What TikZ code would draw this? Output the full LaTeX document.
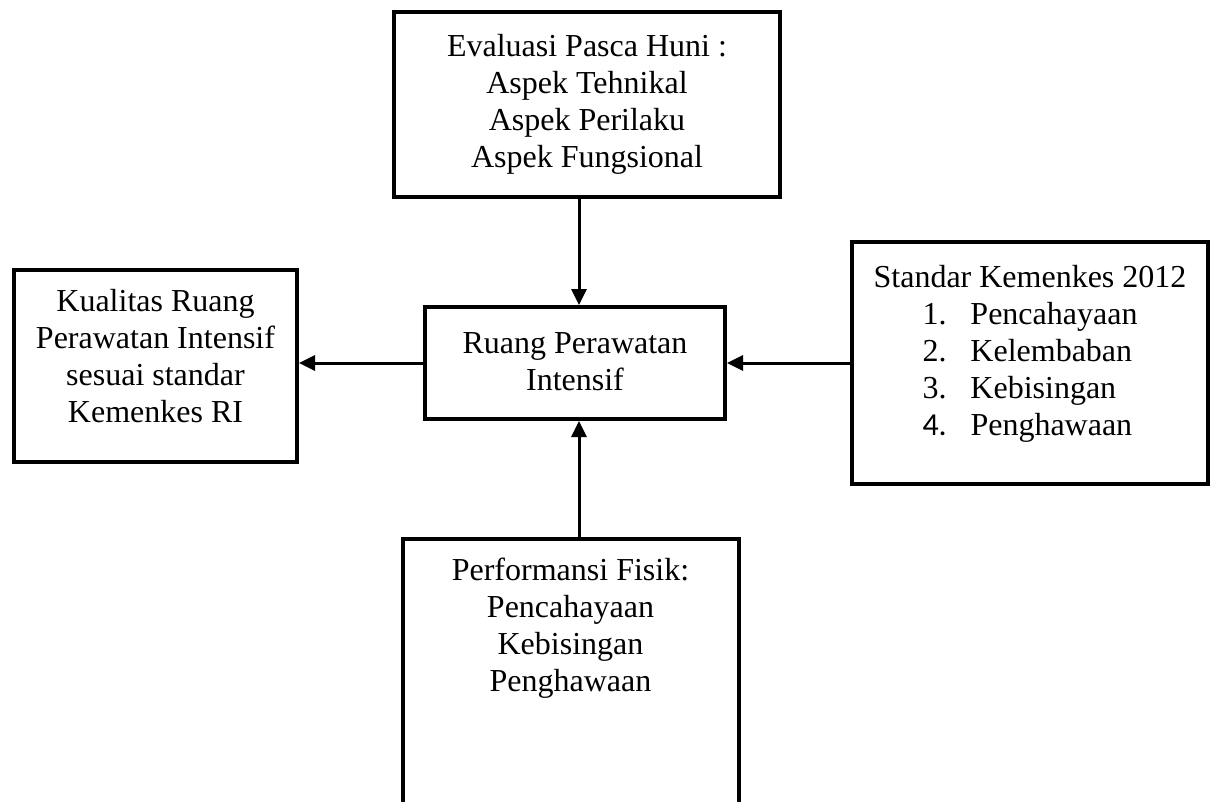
\documentclass[tikz,border=0pt]{standalone}
\usepackage{fontspec}
\setmainfont{Liberation Serif}
\newfontfamily\calibri{Carlito}
\usetikzlibrary{arrows, arrows.meta, shapes, positioning}
\tikzset{
    kotak/.style={draw, rectangle, line width=4pt, inner sep=0pt},
    isi/.style={font=\fontsize{32}{37}\selectfont, align=center, inner sep=0pt, anchor=north},
    panah/.style={-{Triangle[length=16pt, width=15pt]}, line width=3pt}
  }
\newcommand{\nomor}[1]{\makebox[48pt][l]{#1}}

\begin{document}
\begin{tikzpicture}[x=1pt, y=1pt]
            \useasboundingbox (0,0) rectangle (1218,-801);
            \clip (0,0) rectangle (1218,-801);
            \node (evaluasi) [kotak, minimum width=386pt, minimum height=185pt] at (587,-104.5) {};
            \node (ruang) [kotak, minimum width=300pt, minimum height=112pt] at (575,-363) {};
            \node (kualitas) [kotak, minimum width=283pt, minimum height=192pt] at (155.5,-366) {};
            \node (standar) [kotak, minimum width=356pt, minimum height=242pt] at (1030,-363) {};
            \node (fisik) [kotak, anchor=north, minimum width=336pt, minimum height=300pt] at (570.5,-536.5) {};
            % isi kotak
            \node (evaluasiisi) [isi, below=24.5pt of evaluasi.north] {Evaluasi Pasca Huni :\\Aspek Tehnikal\\Aspek Perilaku\\Aspek Fungsional};
            \node (ruangisi) [isi, below=27pt of ruang.north] {Ruang Perawatan\\Intensif};
            \node (kualitasisi) [isi, below=21pt of kualitas.north] {Kualitas Ruang\\Perawatan Intensif\\sesuai standar\\Kemenkes RI};
            \node (standarisi) [isi, below=25pt of standar.north] {Standar Kemenkes 2012\\\begin{tabular}[t]{@{}l@{}}\nomor{1.}Pencahayaan\\\nomor{2.}Kelembaban\\\nomor{3.}Kebisingan\\\nomor{\calibri 4.}Penghawaan\end{tabular}};
            \node (fisikisi) [isi, below=21pt of fisik.north] {Performansi Fisik:\\Pencahayaan\\Kebisingan\\Penghawaan};
            % panah
            \coordinate (atas) at ([xshift=4pt]ruang.north);
            \coordinate (bawah) at ([xshift=4pt]ruang.south);
            \draw[panah] (evaluasi.south -| atas) -- (atas);
            \draw[panah] (ruang.west) -- (ruang.west -| kualitas.east);
            \draw[panah] (standar.west) -- (ruang.east);
            \draw[panah] (fisik.north -| bawah) -- (bawah);
        \end{tikzpicture}
\end{document}
